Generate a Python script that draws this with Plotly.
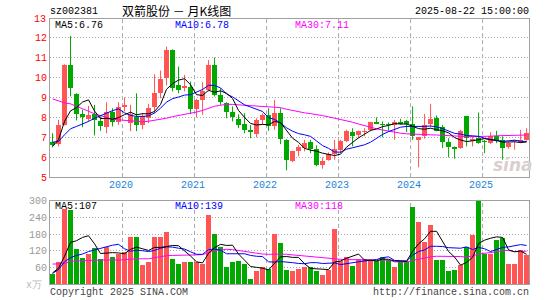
import plotly.graph_objects as go

# ---------------- data (monthly, 2019-01 .. 2025-08) ----------------
months = [f"{y}-{m:02d}" for y in range(2019, 2026) for m in range(1, 13)][:80]
year_labels = ["2020", "2021", "2022", "2023", "2024", "2025"]

opens = [6.78, 6.65, 7.59, 10.62, 9.17, 8.17, 7.92, 8.15, 7.82, 7.49,
         8.24, 7.75, 8.49, 7.70, 8.00, 7.59, 7.95, 8.49, 9.20, 9.99,
         11.37, 9.59, 9.45, 9.50, 8.40, 8.87, 9.37, 10.62, 9.09, 8.70,
         8.25, 7.92, 7.67, 7.34, 7.15, 7.87, 8.12, 7.54, 8.20, 6.87,
         5.79, 6.29, 6.45, 6.74, 6.42, 5.62, 5.87, 6.15, 6.37, 6.79,
         7.25, 7.09, 7.24, 7.37, 7.75, 7.67, 7.67, 7.62, 7.75, 7.79,
         7.67, 6.87, 7.04, 7.67, 7.95, 7.49, 6.75, 6.49, 6.45, 8.04,
         6.79, 6.95, 6.79, 6.70, 7.04, 6.87, 6.49, 6.80, 6.75, 6.87]
highs = [7.20, 7.87, 10.65, 12.07, 9.20, 8.37, 8.57, 8.62, 8.04, 8.75,
         8.45, 8.75, 8.99, 8.62, 9.20, 8.20, 8.67, 10.15, 10.34, 11.54,
         11.40, 10.54, 10.12, 9.79, 8.92, 9.75, 10.87, 10.99, 9.45, 8.75,
         8.54, 8.15, 8.20, 7.60, 7.95, 8.20, 8.45, 8.87, 8.45, 6.90,
         6.32, 6.62, 6.87, 6.87, 6.59, 5.99, 6.24, 6.87, 6.87, 7.37,
         7.45, 7.32, 7.45, 7.75, 7.99, 7.79, 7.74, 7.87, 7.92, 7.87,
         8.54, 6.99, 8.17, 8.67, 8.09, 7.62, 6.95, 6.54, 7.37, 8.04,
         7.04, 8.24, 6.87, 7.25, 7.32, 7.04, 6.75, 6.87, 7.37, 7.45]
lows = [6.49, 6.54, 7.59, 9.04, 7.84, 7.50, 7.79, 7.09, 7.32, 7.20,
        7.54, 7.62, 8.29, 7.30, 7.30, 7.40, 7.70, 8.20, 8.95, 9.59,
        9.29, 9.20, 9.29, 8.15, 7.99, 8.12, 9.29, 9.04, 8.62, 7.95,
        7.79, 7.45, 7.20, 6.95, 6.99, 7.62, 7.32, 7.37, 6.65, 5.34,
        5.75, 6.04, 6.29, 6.20, 5.54, 5.42, 5.82, 5.87, 6.20, 6.75,
        6.54, 6.95, 7.04, 7.29, 7.65, 6.99, 7.32, 6.87, 7.62, 7.25,
        6.87, 5.49, 6.92, 7.50, 7.29, 6.45, 5.99, 5.92, 6.42, 6.54,
        6.54, 6.67, 6.20, 6.65, 6.70, 5.87, 6.42, 6.37, 6.70, 6.82]
closes = [6.59, 7.59, 10.62, 9.45, 8.17, 7.99, 8.12, 7.84, 7.54, 8.25,
          7.75, 8.50, 8.62, 8.15, 7.60, 8.04, 8.45, 9.20, 9.92, 11.37,
          9.45, 9.34, 9.57, 8.40, 8.87, 9.29, 10.62, 9.09, 8.74, 8.25,
          7.99, 7.62, 7.34, 7.24, 7.87, 8.12, 7.54, 8.20, 6.90, 5.84,
          6.29, 6.49, 6.70, 6.42, 5.59, 5.82, 6.15, 6.42, 6.79, 7.32,
          7.04, 7.29, 7.32, 7.75, 7.67, 7.62, 7.59, 7.75, 7.67, 7.67,
          7.07, 6.99, 7.62, 7.92, 7.32, 6.74, 6.49, 6.42, 7.32, 6.95,
          6.92, 6.70, 6.75, 7.04, 6.82, 6.45, 6.70, 6.82, 6.87, 7.20]

ma5 = [6.54, 6.87, 7.79, 8.32, 8.48, 8.76, 8.87, 8.31, 7.93, 7.95,
       7.90, 7.98, 8.13, 8.25, 8.12, 8.18, 8.17, 8.29, 8.64, 9.40,
       9.68, 9.86, 9.93, 9.63, 9.13, 9.09, 9.35, 9.25, 9.32, 9.20,
       8.94, 8.34, 7.99, 7.69, 7.61, 7.64, 7.62, 7.79, 7.73, 7.32,
       6.95, 6.74, 6.44, 6.35, 6.30, 6.20, 6.14, 6.08, 6.15, 6.50,
       6.74, 6.97, 7.15, 7.34, 7.41, 7.53, 7.59, 7.68, 7.66, 7.66,
       7.55, 7.43, 7.40, 7.45, 7.38, 7.32, 7.22, 6.98, 6.86, 6.78,
       6.82, 6.86, 6.93, 6.87, 6.85, 6.75, 6.75, 6.77, 6.73, 6.76]
ma10 = [6.75, 6.79, 7.12, 7.42, 7.54, 7.65, 7.79, 7.95, 8.09, 8.22,
        8.33, 8.42, 8.22, 8.09, 8.04, 8.04, 8.07, 8.21, 8.45, 8.76,
        8.93, 9.01, 9.11, 9.13, 9.26, 9.39, 9.60, 9.59, 9.47, 9.16,
        9.02, 8.84, 8.62, 8.51, 8.41, 8.29, 7.98, 7.89, 7.71, 7.47,
        7.30, 7.18, 7.12, 7.04, 6.81, 6.58, 6.44, 6.26, 6.25, 6.40,
        6.47, 6.55, 6.62, 6.75, 6.96, 7.14, 7.28, 7.41, 7.50, 7.54,
        7.54, 7.51, 7.54, 7.56, 7.52, 7.43, 7.32, 7.19, 7.16, 7.08,
        7.07, 7.04, 6.95, 6.87, 6.82, 6.79, 6.81, 6.85, 6.80, 6.78]
ma30 = [8.92, 8.80, 8.72, 8.67, 8.56, 8.42, 8.30, 8.17, 8.07, 7.98,
        7.90, 7.87, 7.85, 7.82, 7.78, 7.77, 7.80, 7.84, 7.88, 7.95,
        8.03, 8.08, 8.14, 8.20, 8.26, 8.34, 8.45, 8.55, 8.60, 8.65,
        8.64, 8.62, 8.60, 8.58, 8.57, 8.56, 8.55, 8.53, 8.48, 8.40,
        8.33, 8.28, 8.22, 8.18, 8.14, 8.08, 8.02, 7.96, 7.90, 7.83,
        7.75, 7.66, 7.57, 7.50, 7.42, 7.36, 7.30, 7.25, 7.20, 7.17,
        7.15, 7.14, 7.13, 7.12, 7.11, 7.09, 7.07, 7.05, 7.04, 7.03,
        7.03, 7.03, 7.04, 7.05, 7.07, 7.08, 7.09, 7.10, 7.11, 7.11]

volume = [36, 78, 271, 267, 127, 95, 109, 129, 91, 135,
          99, 108, 114, 171, 171, 70, 78, 168, 171, 186,
          91, 73, 78, 78, 78, 73, 247, 181, 135, 60,
          78, 84, 73, 19, 48, 63, 54, 180, 147, 51,
          48, 55, 63, 63, 48, 33, 51, 199, 84, 99,
          66, 91, 91, 84, 84, 99, 87, 63, 79, 84,
          279, 222, 153, 211, 87, 87, 48, 51, 69, 134,
          177, 300, 108, 108, 159, 165, 73, 73, 123, 105]
vol_ma5 = [40, 57, 100, 150, 156, 168, 174, 145, 110, 112,
           113, 112, 109, 125, 133, 127, 121, 132, 132, 135,
           139, 138, 120, 101, 80, 76, 111, 131, 143, 139,
           140, 108, 86, 63, 60, 57, 51, 73, 98, 99,
           96, 96, 73, 56, 55, 52, 52, 79, 83, 93,
           100, 108, 86, 86, 83, 90, 89, 83, 82, 82,
           118, 145, 163, 190, 190, 152, 117, 97, 68, 78,
           96, 146, 158, 165, 170, 168, 123, 116, 119, 107]
vol_ma10 = [38, 52, 80, 95, 103, 108, 117, 123, 130, 134,
            140, 143, 127, 118, 122, 120, 117, 121, 129, 134,
            133, 129, 126, 116, 107, 107, 124, 126, 122, 109,
            108, 109, 109, 103, 100, 99, 80, 79, 81, 80,
            77, 74, 73, 77, 77, 74, 74, 76, 70, 74,
            76, 80, 83, 85, 88, 95, 98, 85, 84, 83,
            104, 117, 123, 136, 136, 135, 131, 130, 129, 134,
            124, 132, 127, 117, 124, 132, 134, 137, 142, 139]
vol_ma30 = [72, 72, 73, 82, 84, 84, 85, 86, 87, 87,
            87, 86, 88, 90, 91, 91, 91, 95, 99, 102,
            103, 103, 103, 104, 105, 106, 114, 120, 123, 125,
            124, 121, 117, 113, 110, 108, 107, 108, 108, 107,
            105, 103, 101, 98, 95, 93, 92, 91, 89, 88,
            88, 88, 88, 88, 88, 87, 86, 80, 80, 79,
            85, 90, 93, 98, 100, 100, 101, 100, 99, 97,
            101, 108, 111, 112, 116, 121, 121, 117, 118, 118]

price_ticks = [5, 6, 7, 8, 9, 10, 11, 12]
vol_ticks = [60, 120, 180, 240, 300]

# ---------------- style / geometry ----------------
W, H = 545, 300
P_LEFT, P_RIGHT, P_TOP, P_BOTTOM = 50, 529.3, 19, 284.3   # plot box in pixels
ML, MT = P_LEFT, P_TOP
MR, MB = W - P_RIGHT, H - P_BOTTOM

RED, GREEN = "#FF5555", "#00A800"
MONO = "Liberation Mono"
GRID = "#A8A8A8"
BORDER = "#A0A0A0"


def px(xr):
    return (xr - P_LEFT) / (P_RIGHT - P_LEFT)


def py(yr):
    return (P_BOTTOM - yr) / (P_BOTTOM - P_TOP)


x = list(range(len(months)))
up = [c >= o for o, c in zip(opens, closes)]

fig = go.Figure()

# candle wicks + bodies
for flag, col in ((True, RED), (False, GREEN)):
    idx = [i for i in x if up[i] == flag]
    wx, wy = [], []
    for i in idx:
        wx += [i, i, None]
        wy += [lows[i], highs[i], None]
    fig.add_trace(go.Scatter(x=wx, y=wy, mode="lines", line=dict(color=col, width=1),
                             hoverinfo="skip", showlegend=False, xaxis="x", yaxis="y"))
    fig.add_trace(go.Bar(x=idx,
                         base=[min(opens[i], closes[i]) for i in idx],
                         y=[max(abs(closes[i] - opens[i]), 0.05) for i in idx],
                         width=0.83, marker=dict(color=col, line=dict(width=0)),
                         showlegend=False, xaxis="x", yaxis="y"))

for ser, col in ((ma30, "#FF00FF"), (ma10, "#0000FF"), (ma5, "#000000")):
    fig.add_trace(go.Scatter(x=x, y=ser, mode="lines", line=dict(color=col, width=1),
                             showlegend=False, xaxis="x", yaxis="y"))

# volume
fig.add_trace(go.Bar(x=x, y=volume, width=0.83,
                     marker=dict(color=[RED if u else GREEN for u in up], line=dict(width=0)),
                     showlegend=False, xaxis="x2", yaxis="y2"))
for ser, col in ((vol_ma30, "#FF00FF"), (vol_ma10, "#0000FF"), (vol_ma5, "#000000")):
    fig.add_trace(go.Scatter(x=x, y=ser, mode="lines", line=dict(color=col, width=1),
                             showlegend=False, xaxis="x2", yaxis="y2"))

# year separators and labels
shapes = []
annotations = []
for lab in year_labels:
    xv = months.index(lab + "-01") - 0.33
    for yr in ("y domain", "y2 domain"):
        shapes.append(dict(type="line", xref="x", yref=yr, x0=xv, x1=xv, y0=0, y1=1,
                           line=dict(color=GRID, width=1, dash="4px,3px"), layer="below"))
    annotations.append(dict(x=xv - 0.33, xref="x", y=py(186), yref="paper", text=lab,
                            showarrow=False, xanchor="center", yanchor="middle",
                            font=dict(family=MONO, size=10, color="#1A85D6")))


def txt(t, xr, yr, color="#000", anchor="left", size=10, family=MONO):
    annotations.append(dict(x=px(xr), y=py(yr), xref="paper", yref="paper", text=t,
                            showarrow=False, xanchor=anchor, yanchor="middle",
                            borderpad=0, font=dict(family=family, size=size, color=color)))


txt("sz002381", 49, 11.5)
txt("双箭股份 － 月K线图", 121, 10.5, size=12, family="Noto Sans CJK SC")
txt("2025-08-22 15:00:00", 530, 11.5, anchor="right")
txt("13", 47, 19.5, color="red", anchor="right")
txt("MA5:6.76", 54, 25.5)
txt("MA10:6.78", 174, 25.5, color="#0000FF")
txt("MA30:7.11", 294, 25.5, color="#FF00FF")
txt("MA5:107", 54, 207)
txt("MA10:139", 174, 207, color="#0000FF")
txt("MA30:118", 294, 207, color="#FF00FF")
txt("x万", 43, 286, color="#BBBBBB", anchor="right")
txt("Copyright 2025 SINA.COM", 49, 293, color="#444444")
txt("http://finance.sina.com.cn", 530, 293, color="#444444", anchor="right")
annotations.append(dict(x=px(513), y=py(165), xref="paper", yref="paper", text="sina",
                        showarrow=False, xanchor="center", yanchor="middle",
                        font=dict(family="DejaVu Sans", size=17, color="#D9CFCF",
                                  style="italic", weight="bold")))

axis_common = dict(showline=True, mirror=True, linecolor=BORDER, linewidth=1,
                   zeroline=False, ticks="", fixedrange=True)

fig.update_layout(
    width=W, height=H, margin=dict(l=ML, r=MR, t=MT, b=MB, autoexpand=False),
    paper_bgcolor="white", plot_bgcolor="white", barmode="overlay", bargap=0,
    showlegend=False, shapes=shapes, annotations=annotations,
    xaxis=dict(domain=[0, 1], range=[-0.42, 79.4], showticklabels=False, showgrid=False,
               anchor="y", **axis_common),
    xaxis2=dict(domain=[0, 1], range=[-0.42, 79.4], showticklabels=False, showgrid=False,
                anchor="y2", matches="x", **axis_common),
    yaxis=dict(domain=[py(177.3), 1], range=[5, 12.92], tickvals=price_ticks,
               ticktext=[str(v) for v in price_ticks],
               tickfont=dict(family=MONO, size=10, color="red"),
               showgrid=True, gridcolor=GRID, griddash="1px,2px", gridwidth=1,
               anchor="x", **axis_common),
    yaxis2=dict(domain=[0, py(201)], range=[0, 300], tickvals=vol_ticks,
                ticktext=[str(v) for v in vol_ticks],
                tickfont=dict(family=MONO, size=10, color="#999999"),
                showgrid=True, gridcolor=GRID, griddash="1px,2px", gridwidth=1,
                anchor="x2", **axis_common),
)

# remove the browser's default 8px body margin so the figure sits at the page origin;
# no mode bar / hover so nothing covers the header texts
fig.write_html("out.html",
               config={"displayModeBar": False, "staticPlot": True},
               post_script="document.body.style.margin='0px';")
